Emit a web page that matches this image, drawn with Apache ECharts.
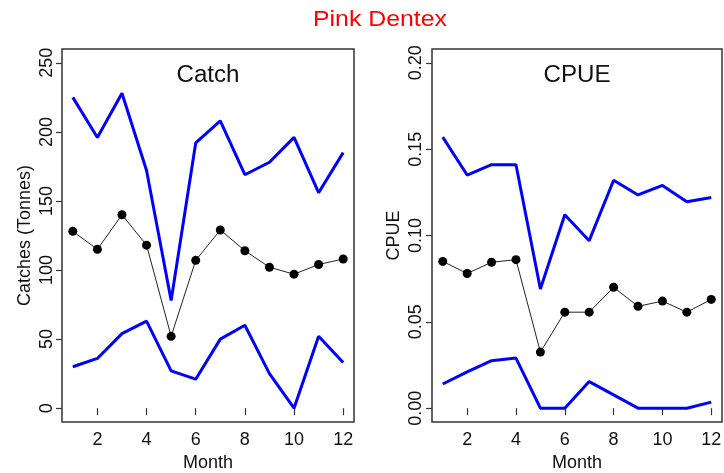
<!DOCTYPE html>
<html>
<head>
<meta charset="utf-8">
<script src="https://cdn.jsdelivr.net/npm/echarts@6/dist/echarts.min.js"></script>
<style>
  html, body { margin: 0; padding: 0; background: #fff; }
  #chart { width: 724px; height: 473px; }
</style>
</head>
<body>
<div id="chart"></div>
<script>
// Monthly catch and CPUE for Pink Dentex: mean with upper/lower bounds
const months = [1, 2, 3, 4, 5, 6, 7, 8, 9, 10, 11, 12];
const monthTicks = [2, 4, 6, 8, 10, 12];

const catchMean  = [128, 115, 140, 118, 52, 107, 129, 114, 102, 97, 104, 108];
const catchUpper = [225, 196, 228, 172, 78, 192, 208, 169, 178, 196, 156, 185];
const catchLower = [30, 36, 54, 63, 27, 21, 50, 60, 25, 0, 52, 33];
const catchTicks = [0, 50, 100, 150, 200, 250];

const cpueMean  = [0.085, 0.078, 0.0845, 0.086, 0.0325, 0.0556, 0.0556, 0.070, 0.059, 0.062, 0.0556, 0.063];
const cpueUpper = [0.157, 0.135, 0.141, 0.141, 0.069, 0.112, 0.097, 0.132, 0.1235, 0.129, 0.1195, 0.122];
const cpueLower = [0.014, 0.021, 0.0275, 0.029, 0.0, 0.0, 0.0154, 0.0077, 0.0, 0.0, 0.0, 0.0035];
const cpueTicks = [0.00, 0.05, 0.10, 0.15, 0.20];

const FONT = "'Liberation Sans', Arial, sans-serif";
const INK = '#111';
const FRAME = '#333';

const pairs = vals => months.map((m, i) => [m, vals[i]]);

function xAxisFor(gridIndex) {
  return {
    type: 'value', gridIndex,
    min: 0.56, max: 12.44,
    name: 'Month', nameLocation: 'middle', nameGap: 30,
    nameTextStyle: { fontFamily: FONT, fontSize: 18, color: INK },
    axisLine: { show: false },
    splitLine: { show: false },
    axisTick: { show: true, inside: false, length: 7, customValues: monthTicks,
                lineStyle: { color: FRAME, width: 1.2 } },
    axisLabel: { customValues: monthTicks, margin: 9,
                 fontFamily: FONT, fontSize: 18, color: INK }
  };
}

function yAxisFor(gridIndex, name, min, max, ticks, fmt, nameGap, margin) {
  return {
    type: 'value', gridIndex, min, max,
    name, nameLocation: 'middle', nameGap,
    nameTextStyle: { fontFamily: FONT, fontSize: 18, color: INK },
    axisLine: { show: false },
    splitLine: { show: false },
    axisTick: { show: true, inside: false, length: 6, customValues: ticks,
                lineStyle: { color: FRAME, width: 1.2 } },
    axisLabel: { customValues: ticks, rotate: 90, margin,
                 fontFamily: FONT, fontSize: 18, color: INK, formatter: fmt }
  };
}

function meanSeries(idx, vals) {
  return {
    type: 'line', xAxisIndex: idx, yAxisIndex: idx, data: pairs(vals),
    symbol: 'circle', symbolSize: 9, z: 2,
    lineStyle: { color: '#222', width: 1 },
    itemStyle: { color: '#000' }
  };
}

function boundSeries(idx, vals) {
  return {
    type: 'line', xAxisIndex: idx, yAxisIndex: idx, data: pairs(vals),
    symbol: 'none', z: 3,
    lineStyle: { color: '#0000ff', width: 3 }
  };
}

const chart = echarts.init(document.getElementById('chart'), null, { renderer: 'canvas' });

chart.setOption({
  backgroundColor: '#ffffff',
  animation: false,
  grid: [
    { left: 62, top: 49, width: 292, height: 373, show: true,
      borderColor: FRAME, borderWidth: 1.5, outerBoundsMode: 'none' },
    { left: 432, top: 49, width: 290, height: 373, show: true,
      borderColor: FRAME, borderWidth: 1.5, outerBoundsMode: 'none' }
  ],
  xAxis: [xAxisFor(0), xAxisFor(1)],
  yAxis: [
    yAxisFor(0, 'Catches (Tonnes)', -10, 260, catchTicks, v => String(v), 28, 6),
    yAxisFor(1, 'CPUE', -0.008, 0.208, cpueTicks, v => v.toFixed(2), 29, 7)
  ],
  series: [
    meanSeries(0, catchMean), boundSeries(0, catchUpper), boundSeries(0, catchLower),
    meanSeries(1, cpueMean), boundSeries(1, cpueUpper), boundSeries(1, cpueLower)
  ],
  graphic: [
    { type: 'text', x: 380, y: 20, scaleX: 1.13,
      style: { text: 'Pink Dentex', fill: '#ff0000', font: '22px ' + FONT,
               align: 'center', verticalAlign: 'middle' } },
    { type: 'text', x: 208, y: 76, scaleX: 1.05,
      style: { text: 'Catch', fill: INK, font: '23px ' + FONT,
               align: 'center', verticalAlign: 'middle' } },
    { type: 'text', x: 577, y: 76, scaleX: 1.05,
      style: { text: 'CPUE', fill: INK, font: '23px ' + FONT,
               align: 'center', verticalAlign: 'middle' } }
  ]
});
</script>
</body>
</html>
